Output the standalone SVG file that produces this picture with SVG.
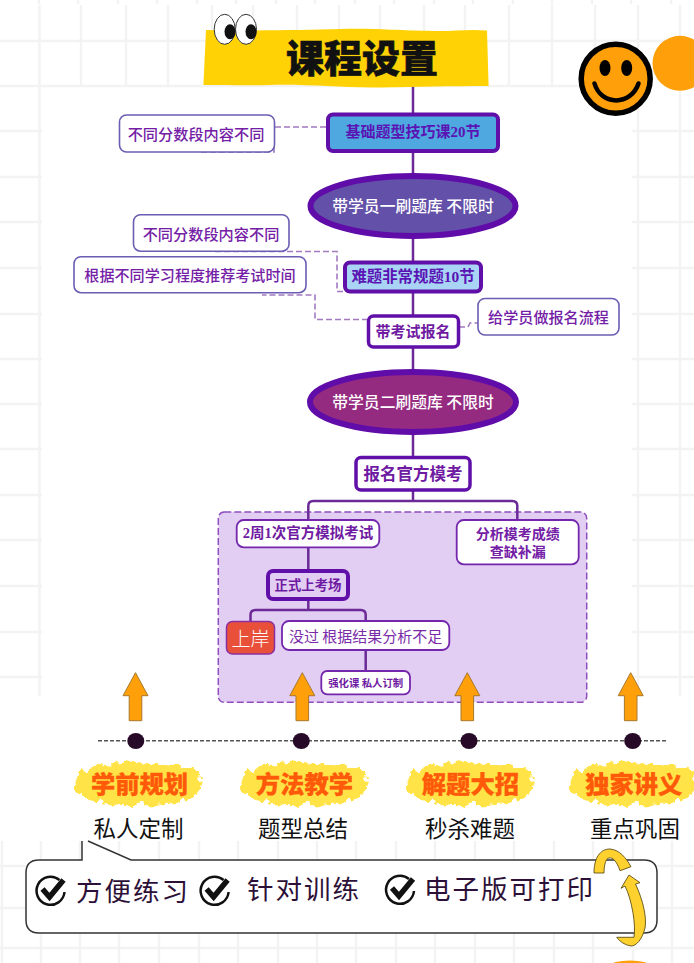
<svg xmlns="http://www.w3.org/2000/svg" width="694" height="963" viewBox="0 0 694 963">
<style>
text{font-family:"Liberation Serif","Noto Sans CJK SC",sans-serif;text-anchor:middle;dominant-baseline:central}
.cj{font-family:"Noto Sans CJK SC",sans-serif}
.grid{stroke:#f3f3f3;stroke-width:2.4;fill:none}
.line{stroke:#6b2a97;stroke-width:2.5;fill:none}
.dash{stroke:#a27ac0;stroke-width:1.6;stroke-dasharray:6 3;fill:none}
.side{fill:#fff;stroke:#6a5db3;stroke-width:1.6}
.pl{fill:#fff;stroke:#7426ad;stroke-width:1.8}
.thick{stroke:#600fa8;stroke-width:4}
.ell{stroke:#600ca8;stroke-width:6}
.t{fill:#6f1aa2;font-weight:700}
.tm{fill:#7420a6;font-weight:500}
.w{fill:#fff;font-weight:500}
.arrow{fill:#ffa00b;stroke:#a8782a;stroke-width:1}
.dot{fill:#260a28}
.blob{fill:#ffe347;filter:url(#rough)}
.or{fill:#ff5a0a;font-weight:900;font-size:24.3px;stroke:#ff5a0a;stroke-width:.3}
.sub{fill:#111;font-size:22.5px;font-weight:400}
.ch{fill:#2d1038;font-size:26.5px;letter-spacing:2px;text-anchor:start;font-weight:400}
.curl{fill:#ffd12e;stroke:#5f5015;stroke-width:.9}
</style>
<defs>
<filter id="rough" x="-15%" y="-30%" width="130%" height="160%">
<feTurbulence type="fractalNoise" baseFrequency="0.12" numOctaves="3" seed="4"/>
<feDisplacementMap in="SourceGraphic" scale="13" xChannelSelector="R" yChannelSelector="G"/>
</filter>
<g id="check">
<path d="M9,-11 A14,14 0 1 0 14,1" fill="none" stroke="#111" stroke-width="2.5"/>
<path d="M-8,-2 L-1,6 L13,-11" fill="none" stroke="#111" stroke-width="5.5"/>
</g>
<path id="up" d="M0,0 L12.5,23 H6.3 V48 H-6.3 V23 H-12.5 Z"/>
<path id="brush" d="M-60,-10 C-48,-20 -30,-19 -18,-21 C-8,-22 10,-20 24,-20 C38,-20 54,-16 60,-9 C66,-2 64,8 56,12 C42,20 24,18 8,21 C-8,23 -26,20 -40,18 C-52,16 -66,10 -64,2 C-63,-3 -62,-7 -60,-10 Z"/>
</defs>

<rect width="694" height="963" fill="#fff"/>
<g id="grid" class="grid">
<path d="M39,0V4M78,0V4M118,0V4M157,0V4M197,0V4M236,0V4M276,0V4M315,0V4M355,0V4M394,0V4M434,0V4M473,0V4M513,0V4M552,0V4M592,0V4M631,0V4M671,0V4"/>
<path d="M0,41H694M0,86H638"/>
<path d="M81,5V86M126,5V86M168,5V86M212,5V86M253,5V86M297,5V86M339,5V86M380,5V86M424,5V86M465,5V86M509,5V86M552,5V86M595,5V86"/>
<path d="M39.5,5V696M638,5V696M680,5V696"/>
<path d="M0,131H42M0,177H42M0,222H42M0,268H42M0,314H42M0,359H42M0,404H42M0,449H42M0,495H42M0,540H42M0,586H42M0,632H42M0,677H42"/>
<path d="M632,131H694M632,177H694M632,222H694M632,268H694M632,314H694M632,359H694M632,404H694M632,449H694M632,495H694M632,540H694M632,586H694M632,632H694M632,677H694"/>
<path d="M2,841V963M41,841V963M80,841V963M119,841V963M159,841V963M199,841V963M238,841V963M278,841V963M317,841V963M356,841V963M396,841V963M435,841V963M475,841V963M514,841V963M554,841V963M593,841V963M633,841V963M672,841V963"/>
<path d="M0,866H694M0,908H694M0,948H694"/>
</g>

<g id="panel"><rect x="218.3" y="512" width="368.4" height="190.3" rx="6" fill="#e2cdf3" stroke="#8f4fbf" stroke-width="1.5" stroke-dasharray="7 3"/></g>

<g id="connectors">
<path class="line" d="M413,86V491"/>
<path class="line" d="M413,491V501M308.3,520V506Q308.3,501 313.3,501H512.3Q517.3,501 517.3,506V520"/>
<path class="line" d="M308.3,547V569M308.3,600V610M250.5,621V615Q250.5,610 255.5,610H360.7Q365.7,610 365.7,615V621M365.7,650V671"/>
<path class="dash" d="M326,127H274V152H199"/>
<path class="dash" d="M343,291.5H337V251.5H213"/>
<path class="dash" d="M368,319.5H315V295H262"/>
<path class="dash" d="M459,327H468L470,323H478"/>
</g>

<g id="title">
<path d="M206,30 C250,31 300,30 340,29 C380,28 400,31 440,31 C455,31 470,29 487,30.5 L488.6,86 C450,86 420,87 380,87.5 C340,88 310,84 270,85 C250,85.5 225,85 203.4,85 Z" fill="#ffd205"/>
<text class="cj" x="362" y="55.5" font-size="38" font-weight="900" fill="#111" stroke="#111" stroke-width=".6">课程设置</text>
</g>
<g id="eyes">
<ellipse cx="224.7" cy="29.3" rx="10.5" ry="15" fill="#fff" stroke="#333" stroke-width="1"/>
<ellipse cx="246" cy="29.3" rx="10.5" ry="15" fill="#fff" stroke="#333" stroke-width="1"/>
<ellipse cx="230" cy="31.7" rx="5.5" ry="7.5" fill="#111"/>
<ellipse cx="251" cy="31.7" rx="5.5" ry="7.5" fill="#111"/>
</g>
<g id="smiley">
<circle cx="680" cy="63.3" r="27.5" fill="#ffa00b"/>
<circle cx="615.7" cy="78.7" r="34.5" fill="#ffa00b" stroke="#000" stroke-width="5.5"/>
<ellipse cx="605" cy="68" rx="5.5" ry="8"/>
<ellipse cx="626.7" cy="68" rx="5.5" ry="8"/>
<path d="M594.5,83.5 C601,106 631,106 638.5,83.5" fill="none" stroke="#000" stroke-width="4.5" stroke-linecap="round"/>
</g>

<g id="n-basic"><rect class="thick" x="328" y="114.5" width="170" height="36.5" rx="5" fill="#4fa8e0"/><text x="413" y="132" font-size="15" font-weight="700" fill="#5a14b4">基础题型技巧课20节</text></g>
<g id="n-note1"><rect class="side" x="119.5" y="115" width="155" height="37" rx="7"/><text class="tm cj" x="196" y="132.5" font-size="15.2">不同分数段内容不同</text></g>
<g id="n-brush1"><ellipse class="ell" cx="413" cy="206" rx="102.5" ry="30" fill="#6350a8"/><text class="w cj" x="413" y="205.5" font-size="15.8">带学员一刷题库 不限时</text></g>
<g id="n-note2"><rect class="side" x="133.5" y="214.7" width="155.5" height="36.5" rx="7"/><text class="tm cj" x="211" y="232.5" font-size="15.2">不同分数段内容不同</text></g>
<g id="n-note3"><rect class="side" x="74" y="256.7" width="232" height="36" rx="7"/><text class="tm cj" x="190" y="274" font-size="15.1">根据不同学习程度推荐考试时间</text></g>
<g id="n-hard"><rect class="thick" x="345" y="262.5" width="136" height="29" rx="5" fill="#a9d4f5"/><text x="413" y="276" font-size="15.4" font-weight="700" fill="#5a14b4">难题非常规题10节</text></g>
<g id="n-signup"><rect class="pl thick" style="stroke-width:3.5" x="368.5" y="316" width="90" height="31" rx="5"/><text class="t cj" x="413" y="330" font-size="15">带考试报名</text></g>
<g id="n-note4"><rect class="side" x="478" y="298.5" width="141" height="36.5" rx="7"/><text class="tm cj" x="548.5" y="316" font-size="15.1">给学员做报名流程</text></g>
<g id="n-brush2"><ellipse class="ell" cx="413" cy="402" rx="103" ry="30" fill="#952b80"/><text class="w cj" x="413" y="401" font-size="15.8">带学员二刷题库 不限时</text></g>
<g id="n-mock"><rect class="pl thick" style="stroke-width:3.5" x="356" y="457.5" width="114" height="32.5" rx="5"/><text class="t cj" x="413" y="473" font-size="16.5">报名官方模考</text></g>
<g id="n-biweek"><rect class="pl" x="236.7" y="520" width="142.6" height="27.3" rx="7"/><text class="t" x="308" y="533" font-size="14.5">2周1次官方模拟考试</text></g>
<g id="n-analysis"><rect class="pl" x="456.7" y="520" width="122" height="44.3" rx="7"/><text class="tm cj" x="517.7" y="533" font-size="14" style="font-weight:700">分析模考成绩</text><text class="tm cj" x="517.7" y="550.5" font-size="14" style="font-weight:700">查缺补漏</text></g>
<g id="n-exam"><rect class="thick" x="268" y="571" width="80" height="28" rx="5" fill="#e2cdf3"/><text class="t cj" x="308" y="584" font-size="13.4">正式上考场</text></g>
<g id="n-pass"><rect x="226.5" y="621.5" width="48" height="32.5" rx="6" fill="#e8503a" stroke="#8b2fa0" stroke-width="1.5"/><text class="cj" x="250.5" y="637" font-size="19" fill="#fff" font-weight="300">上岸</text></g>
<g id="n-fail"><rect class="pl" x="282" y="621" width="167.3" height="29" rx="7"/><text class="cj" x="365.7" y="635" font-size="15" fill="#7a2ca8" font-weight="400">没过 根据结果分析不足</text></g>
<g id="n-boost"><rect class="pl" x="321.3" y="671" width="88.7" height="23.3" rx="6"/><text class="t cj" x="365.7" y="682" font-size="10.4">强化课 私人订制</text></g>

<g id="arrows">
<use href="#up" class="arrow" x="135.5" y="672.7"/>
<use href="#up" class="arrow" x="302.3" y="672.7"/>
<use href="#up" class="arrow" x="467.3" y="672.7"/>
<use href="#up" class="arrow" x="630.7" y="672.7"/>
</g>
<g id="timeline">
<path d="M98,740.7H668" stroke="#555" stroke-width="1.5" stroke-dasharray="4 2" fill="none"/>
<ellipse class="dot" cx="135.8" cy="741" rx="8.5" ry="8"/>
<ellipse class="dot" cx="301.3" cy="741" rx="8.5" ry="8"/>
<ellipse class="dot" cx="469" cy="741" rx="8.5" ry="8"/>
<ellipse class="dot" cx="632.7" cy="741" rx="8.5" ry="8"/>
</g>
<g id="f1"><use href="#brush" class="blob" x="139" y="784"/><text class="or cj" x="139.5" y="782">学前规划</text><text class="sub cj" x="138.5" y="827">私人定制</text></g>
<g id="f2"><use href="#brush" class="blob" x="305" y="784"/><text class="or cj" x="304.4" y="782">方法教学</text><text class="sub cj" x="303" y="827">题型总结</text></g>
<g id="f3"><use href="#brush" class="blob" x="471" y="784"/><text class="or cj" x="470.4" y="782">解题大招</text><text class="sub cj" x="470" y="827">秒杀难题</text></g>
<g id="f4"><use href="#brush" class="blob" x="634" y="784"/><text class="or cj" x="633.8" y="782">独家讲义</text><text class="sub cj" x="635" y="827">重点巩固</text></g>

<g id="callout">
<path d="M39,860 H82 V841 H88 L131,860 H644 Q657,860 657,873 V920 Q657,933 644,933 H39 Q26,933 26,920 V873 Q26,860 39,860 Z" fill="#fff"/>
<path d="M88,841 L131,860 H644 Q657,860 657,873 V920 Q657,933 644,933 H39 Q26,933 26,920 V873 Q26,860 39,860 H82 V841" fill="none" stroke="#333" stroke-width="1.5"/>
<use href="#check" x="50.5" y="891"/>
<use href="#check" x="214.6" y="891"/>
<use href="#check" x="400" y="890"/>
<text class="ch cj" x="76" y="889">方便练习</text>
<text class="ch cj" x="247" y="887">针对训练</text>
<text class="ch cj" x="424" y="887">电子版可打印</text>
</g>
<g id="curls">
<path class="curl" d="M594,873 C594,858 600,849 610,849 C620,850 626,858 631,866.7 L620,870.7 C617,862 613,857 609,858 C606,858 604,865 604,873 Z"/>
<path class="curl" d="M629,875 L640,882.7 L635.5,884 C643,900 647,918 645,928 C642,940 636,946 631,946 C625,945 620,942 616.7,937.3 L634,937.3 C636,925 632,900 625,886 L621,888.3 Z"/>
</g>
<ellipse id="corner" cx="630" cy="966" rx="20" ry="5.5" fill="#ffa00b"/>
</svg>
